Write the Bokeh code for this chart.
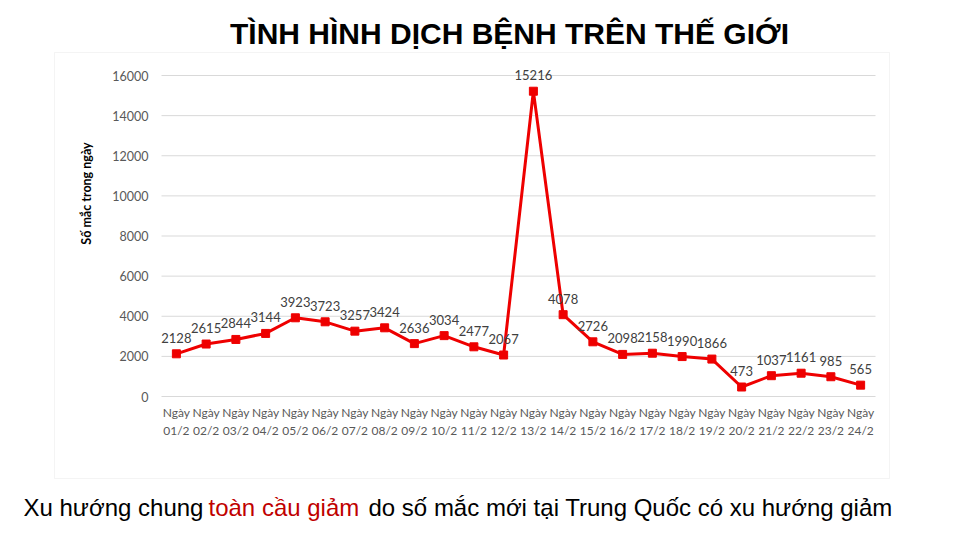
import math
from bokeh.plotting import figure
from bokeh.models import (Range1d, Label, LabelSet, ColumnDataSource,
                          FixedTicker, BoxAnnotation, LinearAxis)
from bokeh.core.properties import value
from bokeh.embed import file_html
from bokeh.resources import INLINE

# ---- data ----
days = ["01/2", "02/2", "03/2", "04/2", "05/2", "06/2", "07/2", "08/2",
        "09/2", "10/2", "11/2", "12/2", "13/2", "14/2", "15/2", "16/2",
        "17/2", "18/2", "19/2", "20/2", "21/2", "22/2", "23/2", "24/2"]
cases = [2128, 2615, 2844, 3144, 3923, 3723, 3257, 3424, 2636, 3034, 2477,
         2067, 15216, 4078, 2726, 2098, 2158, 1990, 1866, 473, 1037, 1161,
         985, 565]
y_ticks = [0, 2000, 4000, 6000, 8000, 10000, 12000, 14000, 16000]
day_prefix = "Ngày"
title_text = "TÌNH HÌNH DỊCH BỆNH TRÊN THẾ GIỚI"
y_label_text = "Số mắc trong ngày"
caption_black_1 = "Xu hướng chung"
caption_red = "toàn cầu giảm"
caption_black_2 = "do số mắc mới tại Trung Quốc có xu hướng giảm"

# ---- layout (page pixel geometry) ----
W, H = 960, 540
F_LEFT, F_RIGHT, F_TOP, F_BOTTOM = 161, 875, 75, 396  # plot-area edges, page px
X0, X1 = -0.5, len(days) - 0.5
Y0, Y1 = 0, 16000


def dx(px):
    return X0 + (px - F_LEFT) * (X1 - X0) / (F_RIGHT - F_LEFT)


def dy(py):
    return Y0 + (F_BOTTOM - py) * (Y1 - Y0) / (F_BOTTOM - F_TOP)


p = figure(width=W, height=H, output_backend="svg", toolbar_location=None,
           x_range=Range1d(dx(0), dx(W)), y_range=Range1d(dy(H), dy(0)),
           x_axis_location=None, y_axis_location=None,
           min_border_left=0, min_border_right=0,
           min_border_top=0, min_border_bottom=0)
p.outline_line_color = None
p.background_fill_color = "white"
p.border_fill_color = "white"
p.xgrid.visible = False
p.ygrid.visible = False

GRID = "#d9d9d9"
CHART_FONT = "Lato"
RED = "#ee0000"

# chart box border
p.add_layout(BoxAnnotation(left=dx(54), right=dx(889), top=dy(52), bottom=dy(478),
                           fill_color=None, fill_alpha=0, line_color=GRID,
                           line_width=1, level="underlay"))

# horizontal gridlines at the y ticks, spanning the plot area
p.segment(x0=X0, x1=X1, y0=y_ticks, y1=y_ticks, line_color=GRID, line_width=1)

yaxis = LinearAxis(fixed_location=X0, bounds=(Y0, Y1),
                   ticker=FixedTicker(ticks=y_ticks))
yaxis.axis_line_color = None
yaxis.major_tick_line_color = None
yaxis.minor_tick_line_color = None
yaxis.major_tick_out = 0
yaxis.major_tick_in = 0
yaxis.major_label_standoff = 13
yaxis.major_label_text_font = CHART_FONT
yaxis.major_label_text_font_size = "12.5px"
yaxis.major_label_text_color = "#595959"
p.add_layout(yaxis, "left")

xaxis = LinearAxis(fixed_location=Y0, bounds=(X0, X1),
                   ticker=FixedTicker(ticks=list(range(len(days)))))
xaxis.major_label_overrides = {i: f"{day_prefix}\n{d}" for i, d in enumerate(days)}
xaxis.axis_line_color = None
xaxis.major_tick_line_color = None
xaxis.minor_tick_line_color = None
xaxis.major_tick_out = 0
xaxis.major_tick_in = 0
xaxis.major_label_standoff = 8
xaxis.major_label_text_font = CHART_FONT
xaxis.major_label_text_font_size = "12px"
xaxis.major_label_text_color = "#595959"
p.add_layout(xaxis, "below")

src = ColumnDataSource(dict(x=list(range(len(days))), y=cases,
                            t=[str(c) for c in cases]))
p.line("x", "y", source=src, line_color=RED, line_width=3)
p.scatter("x", "y", source=src, marker="square", size=8,
          fill_color=RED, line_color=RED)

labels = LabelSet(x="x", y="y", text="t", source=src, y_offset=16,
                  text_align="center", text_baseline="middle",
                  text_font=value(CHART_FONT), text_font_size="13px",
                  text_color="#404040")
p.add_layout(labels)

# y axis title
p.add_layout(Label(x=dx(86), y=dy(193), text=y_label_text, angle=math.pi / 2,
                   text_align="center", text_baseline="middle",
                   text_font=CHART_FONT, text_font_style="bold",
                   text_font_size="12.5px", text_color="#000000"))

# slide title
p.add_layout(Label(x=dx(509), y=dy(33), text=title_text,
                   text_align="center", text_baseline="alphabetic",
                   text_font="Liberation Sans", text_font_style="bold",
                   text_font_size="30px", text_color="#000000"))

# caption
for px, txt, col in [(23, caption_black_1, "#000000"),
                     (208, caption_red, "#c00000"),
                     (368, caption_black_2, "#000000")]:
    p.add_layout(Label(x=dx(px), y=dy(507), text=txt,
                       text_align="left", text_baseline="alphabetic",
                       text_font="Liberation Sans", text_font_size="24px",
                       text_color=col))

open("out.html", "w").write(file_html(p, INLINE))
